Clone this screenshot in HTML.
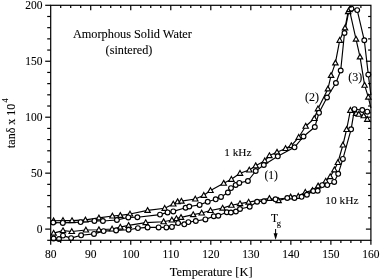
<!DOCTYPE html>
<html><head><meta charset="utf-8"><style>
html,body{margin:0;padding:0;background:#fff;width:380px;height:280px;overflow:hidden;}
svg{display:block;font-family:"Liberation Serif",serif;will-change:transform;}
</style></head><body>
<svg width="380" height="280" viewBox="0 0 380 280" font-family="'Liberation Serif', serif" fill="#000">
<style>text{stroke:#000;stroke-width:0.1px;}</style>
<g fill="none" stroke="#000" stroke-width="1.15" stroke-linejoin="round">
<polyline points="53.6,220.8 63.0,220.5 72.0,220.6 85.4,219.9 98.9,217.9 112.4,216.0 120.3,215.4 130.0,214.0 147.6,210.4 164.7,208.3 173.3,204.0 177.6,201.7 181.4,201.1 195.3,199.0 203.8,195.3 210.5,190.5 223.7,183.2 231.4,179.3 240.0,173.3 249.3,170.0 255.7,165.7 264.8,160.8 269.4,155.6 277.0,152.2 285.6,148.5 291.3,145.6 298.7,137.3 305.7,126.2 314.3,118.5 318.0,108.8 327.9,88.9 331.1,75.4 335.4,62.9 339.7,40.3 345.0,27.9 348.2,11.6 349.4,9.6 356.0,39.1 360.0,56.9 364.6,85.2 368.3,97.1 370.9,108.0"/>
<polyline points="53.2,222.5 62.8,222.9 80.6,222.1 94.4,220.9 102.9,221.0 116.9,220.0 128.3,217.4 137.4,217.2 160.0,214.6 167.6,212.4 173.3,211.4 185.6,207.7 189.3,206.5 199.6,204.9 207.7,201.7 215.7,199.3 221.0,196.9 227.9,192.5 231.0,188.1 235.7,185.0 239.3,182.9 247.9,181.0 255.7,171.0 263.8,165.0 277.8,156.3 294.5,147.3 303.5,136.5 314.8,127.0 319.0,112.8 327.0,97.5 335.9,83.0 340.7,70.5 344.5,33.0 348.6,12.5 351.4,8.7 357.2,10.1 364.3,40.3 368.3,74.6 370.9,95.0"/>
<polyline points="53.6,233.1 63.0,230.6 71.8,231.5 85.9,230.0 98.9,229.7 112.1,229.0 120.3,227.1 128.6,225.4 145.7,222.6 163.6,221.7 171.9,220.0 176.4,218.6 181.0,217.4 193.2,214.6 201.7,213.0 210.5,210.5 222.6,208.1 231.4,205.2 240.0,203.6 248.6,202.1 269.4,198.4 278.6,200.6 290.6,196.9 298.3,196.3 305.3,192.3 312.5,190.4 318.1,185.9 325.7,181.1 330.2,176.6 334.4,169.8 337.9,162.5 342.9,145.0 346.6,129.5 350.4,110.3 356.1,113.4 358.8,114.2 363.7,115.7 367.3,119.3 370.9,122.0"/>
<polyline points="53.6,238.5 59.0,239.0 63.0,235.6 71.1,238.1 81.1,235.3 94.0,233.9 103.6,231.1 116.1,230.4 128.6,229.7 137.9,228.1 147.6,227.4 158.6,227.4 166.4,227.4 171.9,226.9 178.1,223.1 184.3,224.3 188.4,222.1 195.8,221.0 205.4,219.4 213.8,216.2 218.3,215.7 226.8,212.2 230.9,212.5 235.9,211.5 240.0,209.0 249.7,206.7 257.1,201.7 263.9,201.2 275.5,199.3 287.3,198.0 294.5,198.0 301.6,196.8 306.9,194.7 313.3,191.0 317.7,190.7 322.2,185.1 327.3,185.1 334.2,181.9 338.2,173.8 342.9,158.9 351.1,129.3 354.5,109.2 362.3,110.0 367.3,111.7 370.9,113.0"/>
</g>
<g fill="#fff" stroke="#000" stroke-width="1.15">
<path d="M53.6,218.0L56.3,222.8L50.9,222.8Z"/>
<path d="M63.0,217.7L65.7,222.5L60.3,222.5Z"/>
<path d="M72.0,217.8L74.7,222.6L69.3,222.6Z"/>
<path d="M85.4,217.1L88.1,221.9L82.7,221.9Z"/>
<path d="M98.9,215.1L101.6,219.9L96.2,219.9Z"/>
<path d="M112.4,213.2L115.1,218.0L109.7,218.0Z"/>
<path d="M120.3,212.6L123.0,217.4L117.6,217.4Z"/>
<path d="M130.0,211.2L132.7,216.0L127.3,216.0Z"/>
<path d="M147.6,207.6L150.3,212.4L144.9,212.4Z"/>
<path d="M164.7,205.5L167.4,210.3L162.0,210.3Z"/>
<path d="M173.3,201.2L176.0,206.0L170.6,206.0Z"/>
<path d="M177.6,198.9L180.3,203.7L174.9,203.7Z"/>
<path d="M181.4,198.3L184.1,203.1L178.7,203.1Z"/>
<path d="M195.3,196.2L198.0,201.0L192.6,201.0Z"/>
<path d="M203.8,192.5L206.5,197.3L201.1,197.3Z"/>
<path d="M210.5,187.7L213.2,192.5L207.8,192.5Z"/>
<path d="M223.7,180.4L226.4,185.2L221.0,185.2Z"/>
<path d="M231.4,176.5L234.1,181.3L228.7,181.3Z"/>
<path d="M240.0,170.5L242.7,175.3L237.3,175.3Z"/>
<path d="M249.3,167.2L252.0,172.0L246.6,172.0Z"/>
<path d="M255.7,162.9L258.4,167.7L253.0,167.7Z"/>
<path d="M264.8,158.0L267.5,162.8L262.1,162.8Z"/>
<path d="M269.4,152.8L272.1,157.6L266.7,157.6Z"/>
<path d="M277.0,149.4L279.7,154.2L274.3,154.2Z"/>
<path d="M285.6,145.7L288.3,150.5L282.9,150.5Z"/>
<path d="M291.3,142.8L294.0,147.6L288.6,147.6Z"/>
<path d="M298.7,134.5L301.4,139.3L296.0,139.3Z"/>
<path d="M305.7,123.4L308.4,128.2L303.0,128.2Z"/>
<path d="M314.3,115.7L317.0,120.5L311.6,120.5Z"/>
<path d="M318.0,106.0L320.7,110.8L315.3,110.8Z"/>
<path d="M327.9,86.1L330.6,90.9L325.2,90.9Z"/>
<path d="M331.1,72.6L333.8,77.4L328.4,77.4Z"/>
<path d="M335.4,60.1L338.1,64.9L332.7,64.9Z"/>
<path d="M339.7,37.5L342.4,42.3L337.0,42.3Z"/>
<path d="M345.0,25.1L347.7,29.9L342.3,29.9Z"/>
<path d="M348.2,8.8L350.9,13.6L345.5,13.6Z"/>
<path d="M349.4,6.8L352.1,11.6L346.7,11.6Z"/>
<path d="M356.0,36.3L358.7,41.1L353.3,41.1Z"/>
<path d="M360.0,54.1L362.7,58.9L357.3,58.9Z"/>
<path d="M364.6,82.4L367.3,87.2L361.9,87.2Z"/>
<path d="M368.3,94.3L371.0,99.1L365.6,99.1Z"/>
<path d="M53.6,230.3L56.3,235.1L50.9,235.1Z"/>
<path d="M63.0,227.8L65.7,232.6L60.3,232.6Z"/>
<path d="M71.8,228.7L74.5,233.5L69.0,233.5Z"/>
<path d="M85.9,227.2L88.6,232.0L83.2,232.0Z"/>
<path d="M98.9,226.9L101.6,231.7L96.2,231.7Z"/>
<path d="M112.1,226.2L114.8,231.0L109.4,231.0Z"/>
<path d="M120.3,224.3L123.0,229.1L117.6,229.1Z"/>
<path d="M128.6,222.6L131.3,227.4L125.9,227.4Z"/>
<path d="M145.7,219.8L148.4,224.6L143.0,224.6Z"/>
<path d="M163.6,218.9L166.3,223.7L160.9,223.7Z"/>
<path d="M171.9,217.2L174.6,222.0L169.2,222.0Z"/>
<path d="M176.4,215.8L179.1,220.6L173.7,220.6Z"/>
<path d="M181.0,214.6L183.7,219.4L178.3,219.4Z"/>
<path d="M193.2,211.8L195.9,216.6L190.5,216.6Z"/>
<path d="M201.7,210.2L204.4,215.0L199.0,215.0Z"/>
<path d="M210.5,207.7L213.2,212.5L207.8,212.5Z"/>
<path d="M222.6,205.3L225.3,210.1L219.9,210.1Z"/>
<path d="M231.4,202.4L234.1,207.2L228.7,207.2Z"/>
<path d="M240.0,200.8L242.7,205.6L237.3,205.6Z"/>
<path d="M248.6,199.3L251.3,204.1L245.9,204.1Z"/>
<path d="M269.4,195.6L272.1,200.4L266.7,200.4Z"/>
<path d="M278.6,197.8L281.3,202.6L275.9,202.6Z"/>
<path d="M290.6,194.1L293.3,198.9L287.9,198.9Z"/>
<path d="M298.3,193.5L301.0,198.3L295.6,198.3Z"/>
<path d="M305.3,189.5L308.0,194.3L302.6,194.3Z"/>
<path d="M312.5,187.6L315.2,192.4L309.8,192.4Z"/>
<path d="M318.1,183.1L320.8,187.9L315.4,187.9Z"/>
<path d="M325.7,178.3L328.4,183.1L323.0,183.1Z"/>
<path d="M330.2,173.8L332.9,178.6L327.5,178.6Z"/>
<path d="M334.4,167.0L337.1,171.8L331.7,171.8Z"/>
<path d="M337.9,159.7L340.6,164.5L335.2,164.5Z"/>
<path d="M342.9,142.2L345.6,147.0L340.2,147.0Z"/>
<path d="M346.6,126.7L349.3,131.5L343.9,131.5Z"/>
<path d="M350.4,107.5L353.1,112.3L347.7,112.3Z"/>
<path d="M356.1,110.6L358.8,115.4L353.4,115.4Z"/>
<path d="M358.8,111.4L361.5,116.2L356.1,116.2Z"/>
<path d="M363.7,112.9L366.4,117.7L361.0,117.7Z"/>
<path d="M367.3,116.5L370.0,121.3L364.6,121.3Z"/>
<circle cx="53.2" cy="222.5" r="2.4"/>
<circle cx="62.8" cy="222.9" r="2.4"/>
<circle cx="80.6" cy="222.1" r="2.4"/>
<circle cx="94.4" cy="220.9" r="2.4"/>
<circle cx="102.9" cy="221.0" r="2.4"/>
<circle cx="116.9" cy="220.0" r="2.4"/>
<circle cx="128.3" cy="217.4" r="2.4"/>
<circle cx="137.4" cy="217.2" r="2.4"/>
<circle cx="160.0" cy="214.6" r="2.4"/>
<circle cx="167.6" cy="212.4" r="2.4"/>
<circle cx="173.3" cy="211.4" r="2.4"/>
<circle cx="185.6" cy="207.7" r="2.4"/>
<circle cx="189.3" cy="206.5" r="2.4"/>
<circle cx="199.6" cy="204.9" r="2.4"/>
<circle cx="207.7" cy="201.7" r="2.4"/>
<circle cx="215.7" cy="199.3" r="2.4"/>
<circle cx="221.0" cy="196.9" r="2.4"/>
<circle cx="227.9" cy="192.5" r="2.4"/>
<circle cx="231.0" cy="188.1" r="2.4"/>
<circle cx="235.7" cy="185.0" r="2.4"/>
<circle cx="239.3" cy="182.9" r="2.4"/>
<circle cx="247.9" cy="181.0" r="2.4"/>
<circle cx="255.7" cy="171.0" r="2.4"/>
<circle cx="263.8" cy="165.0" r="2.4"/>
<circle cx="277.8" cy="156.3" r="2.4"/>
<circle cx="294.5" cy="147.3" r="2.4"/>
<circle cx="303.5" cy="136.5" r="2.4"/>
<circle cx="314.8" cy="127.0" r="2.4"/>
<circle cx="319.0" cy="112.8" r="2.4"/>
<circle cx="327.0" cy="97.5" r="2.4"/>
<circle cx="335.9" cy="83.0" r="2.4"/>
<circle cx="340.7" cy="70.5" r="2.4"/>
<circle cx="344.5" cy="33.0" r="2.4"/>
<circle cx="351.4" cy="8.7" r="2.4"/>
<circle cx="357.2" cy="10.1" r="2.4"/>
<circle cx="364.3" cy="40.3" r="2.4"/>
<circle cx="368.3" cy="74.6" r="2.4"/>
<circle cx="53.6" cy="238.5" r="2.4"/>
<circle cx="59.0" cy="239.0" r="2.4"/>
<circle cx="63.0" cy="235.6" r="2.4"/>
<circle cx="71.1" cy="238.1" r="2.4"/>
<circle cx="81.1" cy="235.3" r="2.4"/>
<circle cx="94.0" cy="233.9" r="2.4"/>
<circle cx="103.6" cy="231.1" r="2.4"/>
<circle cx="116.1" cy="230.4" r="2.4"/>
<circle cx="128.6" cy="229.7" r="2.4"/>
<circle cx="137.9" cy="228.1" r="2.4"/>
<circle cx="147.6" cy="227.4" r="2.4"/>
<circle cx="158.6" cy="227.4" r="2.4"/>
<circle cx="166.4" cy="227.4" r="2.4"/>
<circle cx="171.9" cy="226.9" r="2.4"/>
<circle cx="178.1" cy="223.1" r="2.4"/>
<circle cx="184.3" cy="224.3" r="2.4"/>
<circle cx="188.4" cy="222.1" r="2.4"/>
<circle cx="195.8" cy="221.0" r="2.4"/>
<circle cx="205.4" cy="219.4" r="2.4"/>
<circle cx="213.8" cy="216.2" r="2.4"/>
<circle cx="218.3" cy="215.7" r="2.4"/>
<circle cx="226.8" cy="212.2" r="2.4"/>
<circle cx="230.9" cy="212.5" r="2.4"/>
<circle cx="235.9" cy="211.5" r="2.4"/>
<circle cx="240.0" cy="209.0" r="2.4"/>
<circle cx="249.7" cy="206.7" r="2.4"/>
<circle cx="257.1" cy="201.7" r="2.4"/>
<circle cx="263.9" cy="201.2" r="2.4"/>
<circle cx="275.5" cy="199.3" r="2.4"/>
<circle cx="287.3" cy="198.0" r="2.4"/>
<circle cx="294.5" cy="198.0" r="2.4"/>
<circle cx="301.6" cy="196.8" r="2.4"/>
<circle cx="306.9" cy="194.7" r="2.4"/>
<circle cx="313.3" cy="191.0" r="2.4"/>
<circle cx="317.7" cy="190.7" r="2.4"/>
<circle cx="322.2" cy="185.1" r="2.4"/>
<circle cx="327.3" cy="185.1" r="2.4"/>
<circle cx="334.2" cy="181.9" r="2.4"/>
<circle cx="338.2" cy="173.8" r="2.4"/>
<circle cx="342.9" cy="158.9" r="2.4"/>
<circle cx="351.1" cy="129.3" r="2.4"/>
<circle cx="354.5" cy="109.2" r="2.4"/>
<circle cx="362.3" cy="110.0" r="2.4"/>
<circle cx="367.3" cy="111.7" r="2.4"/>
</g>
<g stroke="#000" stroke-width="1.2"><rect x="50.7" y="5.3" width="320.2" height="235.0" fill="none" stroke="#000" stroke-width="1.2"/><line x1="50.70" y1="240.3" x2="50.70" y2="244.8"/><line x1="60.71" y1="240.3" x2="60.71" y2="242.9"/><line x1="60.71" y1="5.3" x2="60.71" y2="7.9"/><line x1="70.71" y1="240.3" x2="70.71" y2="242.9"/><line x1="70.71" y1="5.3" x2="70.71" y2="7.9"/><line x1="80.72" y1="240.3" x2="80.72" y2="242.9"/><line x1="80.72" y1="5.3" x2="80.72" y2="7.9"/><line x1="90.72" y1="240.3" x2="90.72" y2="244.8"/><line x1="90.72" y1="5.3" x2="90.72" y2="10.3"/><line x1="100.73" y1="240.3" x2="100.73" y2="242.9"/><line x1="100.73" y1="5.3" x2="100.73" y2="7.9"/><line x1="110.74" y1="240.3" x2="110.74" y2="242.9"/><line x1="110.74" y1="5.3" x2="110.74" y2="7.9"/><line x1="120.74" y1="240.3" x2="120.74" y2="242.9"/><line x1="120.74" y1="5.3" x2="120.74" y2="7.9"/><line x1="130.75" y1="240.3" x2="130.75" y2="244.8"/><line x1="130.75" y1="5.3" x2="130.75" y2="10.3"/><line x1="140.76" y1="240.3" x2="140.76" y2="242.9"/><line x1="140.76" y1="5.3" x2="140.76" y2="7.9"/><line x1="150.76" y1="240.3" x2="150.76" y2="242.9"/><line x1="150.76" y1="5.3" x2="150.76" y2="7.9"/><line x1="160.77" y1="240.3" x2="160.77" y2="242.9"/><line x1="160.77" y1="5.3" x2="160.77" y2="7.9"/><line x1="170.78" y1="240.3" x2="170.78" y2="244.8"/><line x1="170.78" y1="5.3" x2="170.78" y2="10.3"/><line x1="180.78" y1="240.3" x2="180.78" y2="242.9"/><line x1="180.78" y1="5.3" x2="180.78" y2="7.9"/><line x1="190.79" y1="240.3" x2="190.79" y2="242.9"/><line x1="190.79" y1="5.3" x2="190.79" y2="7.9"/><line x1="200.79" y1="240.3" x2="200.79" y2="242.9"/><line x1="200.79" y1="5.3" x2="200.79" y2="7.9"/><line x1="210.80" y1="240.3" x2="210.80" y2="244.8"/><line x1="210.80" y1="5.3" x2="210.80" y2="10.3"/><line x1="220.81" y1="240.3" x2="220.81" y2="242.9"/><line x1="220.81" y1="5.3" x2="220.81" y2="7.9"/><line x1="230.81" y1="240.3" x2="230.81" y2="242.9"/><line x1="230.81" y1="5.3" x2="230.81" y2="7.9"/><line x1="240.82" y1="240.3" x2="240.82" y2="242.9"/><line x1="240.82" y1="5.3" x2="240.82" y2="7.9"/><line x1="250.82" y1="240.3" x2="250.82" y2="244.8"/><line x1="250.82" y1="5.3" x2="250.82" y2="10.3"/><line x1="260.83" y1="240.3" x2="260.83" y2="242.9"/><line x1="260.83" y1="5.3" x2="260.83" y2="7.9"/><line x1="270.84" y1="240.3" x2="270.84" y2="242.9"/><line x1="270.84" y1="5.3" x2="270.84" y2="7.9"/><line x1="280.84" y1="240.3" x2="280.84" y2="242.9"/><line x1="280.84" y1="5.3" x2="280.84" y2="7.9"/><line x1="290.85" y1="240.3" x2="290.85" y2="244.8"/><line x1="290.85" y1="5.3" x2="290.85" y2="10.3"/><line x1="300.86" y1="240.3" x2="300.86" y2="242.9"/><line x1="300.86" y1="5.3" x2="300.86" y2="7.9"/><line x1="310.86" y1="240.3" x2="310.86" y2="242.9"/><line x1="310.86" y1="5.3" x2="310.86" y2="7.9"/><line x1="320.87" y1="240.3" x2="320.87" y2="242.9"/><line x1="320.87" y1="5.3" x2="320.87" y2="7.9"/><line x1="330.88" y1="240.3" x2="330.88" y2="244.8"/><line x1="330.88" y1="5.3" x2="330.88" y2="10.3"/><line x1="340.88" y1="240.3" x2="340.88" y2="242.9"/><line x1="340.88" y1="5.3" x2="340.88" y2="7.9"/><line x1="350.89" y1="240.3" x2="350.89" y2="242.9"/><line x1="350.89" y1="5.3" x2="350.89" y2="7.9"/><line x1="360.89" y1="240.3" x2="360.89" y2="242.9"/><line x1="360.89" y1="5.3" x2="360.89" y2="7.9"/><line x1="370.90" y1="240.3" x2="370.90" y2="244.8"/><line x1="47.2" y1="240.30" x2="50.7" y2="240.30"/><line x1="45.2" y1="229.11" x2="50.7" y2="229.11"/><line x1="365.9" y1="229.11" x2="370.9" y2="229.11"/><line x1="47.2" y1="217.92" x2="50.7" y2="217.92"/><line x1="368.09999999999997" y1="217.92" x2="370.9" y2="217.92"/><line x1="47.2" y1="206.73" x2="50.7" y2="206.73"/><line x1="368.09999999999997" y1="206.73" x2="370.9" y2="206.73"/><line x1="47.2" y1="195.54" x2="50.7" y2="195.54"/><line x1="368.09999999999997" y1="195.54" x2="370.9" y2="195.54"/><line x1="47.2" y1="184.35" x2="50.7" y2="184.35"/><line x1="368.09999999999997" y1="184.35" x2="370.9" y2="184.35"/><line x1="45.2" y1="173.16" x2="50.7" y2="173.16"/><line x1="365.9" y1="173.16" x2="370.9" y2="173.16"/><line x1="47.2" y1="161.97" x2="50.7" y2="161.97"/><line x1="368.09999999999997" y1="161.97" x2="370.9" y2="161.97"/><line x1="47.2" y1="150.78" x2="50.7" y2="150.78"/><line x1="368.09999999999997" y1="150.78" x2="370.9" y2="150.78"/><line x1="47.2" y1="139.59" x2="50.7" y2="139.59"/><line x1="368.09999999999997" y1="139.59" x2="370.9" y2="139.59"/><line x1="47.2" y1="128.40" x2="50.7" y2="128.40"/><line x1="368.09999999999997" y1="128.40" x2="370.9" y2="128.40"/><line x1="45.2" y1="117.20" x2="50.7" y2="117.20"/><line x1="365.9" y1="117.20" x2="370.9" y2="117.20"/><line x1="47.2" y1="106.01" x2="50.7" y2="106.01"/><line x1="368.09999999999997" y1="106.01" x2="370.9" y2="106.01"/><line x1="47.2" y1="94.82" x2="50.7" y2="94.82"/><line x1="368.09999999999997" y1="94.82" x2="370.9" y2="94.82"/><line x1="47.2" y1="83.63" x2="50.7" y2="83.63"/><line x1="368.09999999999997" y1="83.63" x2="370.9" y2="83.63"/><line x1="47.2" y1="72.44" x2="50.7" y2="72.44"/><line x1="368.09999999999997" y1="72.44" x2="370.9" y2="72.44"/><line x1="45.2" y1="61.25" x2="50.7" y2="61.25"/><line x1="365.9" y1="61.25" x2="370.9" y2="61.25"/><line x1="47.2" y1="50.06" x2="50.7" y2="50.06"/><line x1="368.09999999999997" y1="50.06" x2="370.9" y2="50.06"/><line x1="47.2" y1="38.87" x2="50.7" y2="38.87"/><line x1="368.09999999999997" y1="38.87" x2="370.9" y2="38.87"/><line x1="47.2" y1="27.68" x2="50.7" y2="27.68"/><line x1="368.09999999999997" y1="27.68" x2="370.9" y2="27.68"/><line x1="47.2" y1="16.49" x2="50.7" y2="16.49"/><line x1="368.09999999999997" y1="16.49" x2="370.9" y2="16.49"/><line x1="45.2" y1="5.30" x2="50.7" y2="5.30"/></g>
<g font-size="11.5"><text x="50.7" y="257.5" text-anchor="middle">80</text><text x="90.7" y="257.5" text-anchor="middle">90</text><text x="130.8" y="257.5" text-anchor="middle">100</text><text x="170.8" y="257.5" text-anchor="middle">110</text><text x="210.8" y="257.5" text-anchor="middle">120</text><text x="250.8" y="257.5" text-anchor="middle">130</text><text x="290.9" y="257.5" text-anchor="middle">140</text><text x="330.9" y="257.5" text-anchor="middle">150</text><text x="370.9" y="257.5" text-anchor="middle">160</text><text x="42.6" y="232.8" text-anchor="end">0</text><text x="42.6" y="176.9" text-anchor="end">50</text><text x="42.6" y="120.9" text-anchor="end">100</text><text x="42.6" y="65.0" text-anchor="end">150</text><text x="42.6" y="9.0" text-anchor="end">200</text></g>
<text x="72.9" y="37.5" font-size="12.3">Amorphous Solid Water</text>
<text x="105.6" y="54.2" font-size="12.2">(sintered)</text>
<text x="224.2" y="156.3" font-size="11.3">1 kHz</text>
<text x="264.4" y="178.5" font-size="11.6">(1)</text>
<text x="305" y="100.5" font-size="12">(2)</text>
<text x="348.3" y="80.6" font-size="12">(3)</text>
<text x="325.3" y="203.8" font-size="11.4">10 kHz</text>
<text x="169.8" y="275.8" font-size="12.4">Temperature [K]</text>
<text x="271" y="221.8" font-size="11.5">T<tspan font-size="8.5" dx="-1.3" dy="4.2">g</tspan></text>
<line x1="275.6" y1="229" x2="275.6" y2="235" stroke="#000" stroke-width="1"/>
<path d="M273.6,233.2L275.6,240L277.6,233.2Z" fill="#000"/>
<text transform="translate(14.8,148) rotate(-90)" font-size="12">tanδ x 10<tspan font-size="8" dx="1.2" dy="-7.2">4</tspan></text>
</svg>
</body></html>
